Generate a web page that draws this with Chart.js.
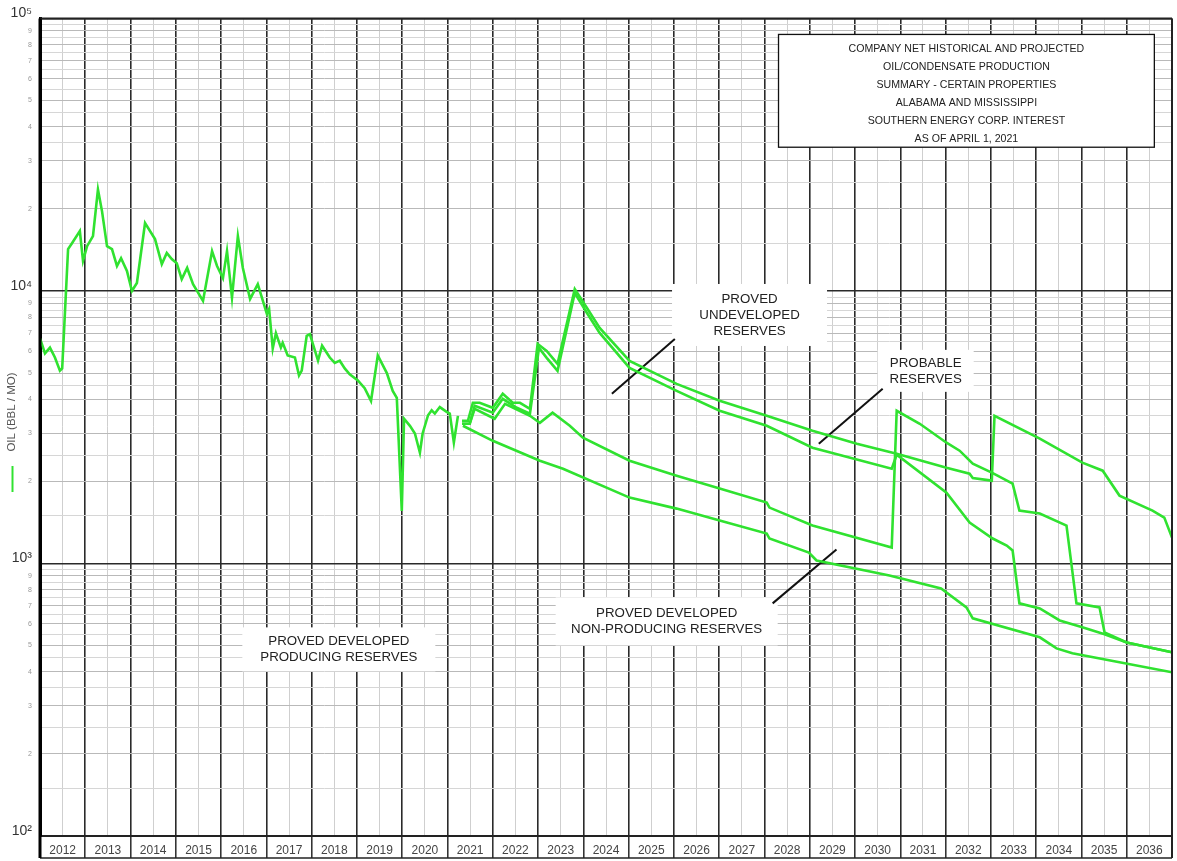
<!DOCTYPE html>
<html>
<head>
<meta charset="utf-8">
<script src="https://cdn.jsdelivr.net/npm/chart.js@4/dist/chart.umd.min.js"></script>
<style>
html,body{margin:0;padding:0;background:#fff;}
#wrap{width:1177px;height:861px;position:relative;}
canvas{display:block;}
</style>
</head>
<body>
<div id="wrap"><canvas id="c" width="1177" height="861"></canvas></div>
<script>
// ---------- DATA ----------
const yearLabels = ['2012','2013','2014','2015','2016','2017','2018','2019','2020','2021','2022','2023','2024','2025','2026','2027','2028','2029','2030','2031','2032','2033','2034','2035','2036'];

const histYears = [2012.00,2012.11,2012.22,2012.33,2012.44,2012.49,2012.62,2012.71,2012.88,2012.95,2013.04,2013.17,2013.28,2013.37,2013.48,2013.59,2013.70,2013.79,2013.92,2014.03,2014.14,2014.32,2014.54,2014.69,2014.80,2014.91,2015.02,2015.13,2015.25,2015.38,2015.60,2015.80,2015.91,2016.04,2016.13,2016.24,2016.37,2016.48,2016.64,2016.81,2017.01,2017.06,2017.14,2017.21,2017.32,2017.36,2017.47,2017.63,2017.72,2017.78,2017.89,2017.96,2018.14,2018.23,2018.40,2018.51,2018.62,2018.73,2018.84,2019.02,2019.17,2019.31,2019.46,2019.66,2019.79,2019.88,2019.99,2020.04,2020.17,2020.28,2020.39,2020.45,2020.57,2020.65,2020.72,2020.83,2020.98,2021.05,2021.14,2021.23];
const histValues = [6700,5900,6200,5700,5100,5200,14250,15000,16600,12900,14600,15900,23600,19600,14600,14250,12350,13200,11850,10000,10700,17750,15500,12550,13800,13100,12650,11050,12150,10600,9200,14000,12350,11150,14000,9450,15900,12150,9350,10600,8250,8600,6150,7000,6200,6450,5800,5700,4900,5100,6850,6950,5550,6300,5700,5450,5550,5200,4950,4700,4400,3950,5800,5000,4300,4050,1560,3400,3200,3000,2550,3000,3500,3650,3550,3750,3600,3550,2780,3480];

// upper forecast line (proved + probable)
const topYears = [2021.32,2021.45,2021.56,2021.71,2022.00,2022.22,2022.44,2022.60,2022.82,2022.99,2023.19,2023.43,2023.81,2024.08,2024.36,2025.02,2026.06,2027.01,2028.05,2029.06,2030.04,2030.92,2032.02,2032.53,2032.60,2033.02,2033.08,2034.08,2035.02,2035.47,2035.84,2036.57,2036.83,2037.00];
const topValues = [3341,3341,3888,3888,3727,4195,3888,3888,3697,6396,6029,5402,10170,8663,7319,5541,4563,3955,3485,3070,2751,2529,2246,2136,2060,2014,3485,2871,2344,2191,1775,1564,1474,1245];

// second forecast line (total proved)
const secondYears = [2021.32,2021.49,2021.60,2022.00,2022.22,2022.53,2022.82,2023.02,2023.19,2023.43,2023.81,2024.08,2024.36,2025.02,2026.06,2027.01,2028.05,2029.06,2030.81,2030.92,2032.02,2032.53,2033.04,2033.35,2033.48,2033.63,2034.08,2034.52,2035.02,2035.51,2036.00,2037.00];
const secondValues = [3256,3256,3792,3574,4021,3727,3544,6184,5684,5093,9833,8305,7019,5223,4302,3634,3203,2660,2228,2507,1820,1413,1235,1164,1116,714,684,618,583,550,513,472];

// third forecast line (proved developed)
const thirdYears = [2021.32,2021.49,2021.60,2022.04,2022.27,2022.82,2023.04,2023.32,2023.70,2023.99,2025.02,2026.06,2027.01,2028.05,2028.11,2029.06,2030.81,2030.92,2031.43,2032.02,2032.31,2032.60,2033.02,2033.48,2033.63,2034.08,2034.67,2034.89,2035.40,2035.51,2036.00,2037.00];
const thirdValues = [3256,3256,3697,3398,3856,3485,3284,3574,3203,2893,2384,2101,1883,1673,1604,1378,1144,3634,3256,2775,2594,2325,2154,1963,1564,1525,1378,714,690,559,513,472];

// bottom forecast line (proved developed producing)
const bottomYears = [2021.34,2022.00,2023.04,2023.55,2025.02,2026.06,2027.01,2028.05,2028.11,2028.98,2029.15,2030.76,2031.90,2032.46,2032.60,2034.08,2034.45,2034.80,2037.00];
const bottomValues = [3203,2820,2384,2228,1745,1590,1437,1288,1235,1097,1026,904,810,690,629,536,488,468,399];

// ---------- TEXT ----------
const titleLines = ['COMPANY NET HISTORICAL AND PROJECTED','OIL/CONDENSATE PRODUCTION','SUMMARY - CERTAIN PROPERTIES','ALABAMA AND MISSISSIPPI','SOUTHERN ENERGY CORP. INTEREST','AS OF APRIL 1, 2021'];
const yAxisTitle = 'OIL (BBL / MO)';
const labelPUD = ['PROVED','UNDEVELOPED','RESERVES'];
const labelProbable = ['PROBABLE','RESERVES'];
const labelPDNP = ['PROVED DEVELOPED','NON-PRODUCING RESERVES'];
const labelPDP = ['PROVED DEVELOPED','PRODUCING RESERVES'];

// ---------- STYLE / LAYOUT ----------
const GREEN = '#30e230';
const FONT = '"Liberation Sans", Arial, "DejaVu Sans", sans-serif';
const mantissas = [1,1.5,2,2.5,3,3.5,4,4.5,5,5.5,6,6.5,7,7.5,8,8.5,9,9.5];
const sup = {2:'\u00B2',3:'\u00B3',4:'\u2074',5:'\u2075'};

// annotations anchored in data units (year, value)
const annotations = [
  {lines: labelPUD,      cx: 2027.67, cy: 8166, w: 155, h: 62},
  {lines: labelProbable, cx: 2031.56, cy: 5093, w: 96,  h: 42},
  {lines: labelPDNP,     cx: 2025.84, cy: 613,  w: 222, h: 48},
  {lines: labelPDP,      cx: 2018.60, cy: 484,  w: 193, h: 44}
];
const pointers = [
  {x0: 2024.63, y0: 4195, x1: 2026.02, y1: 6668},
  {x0: 2029.20, y0: 2751, x1: 2030.61, y1: 4375},
  {x0: 2028.18, y0: 714,  x1: 2029.59, y1: 1125}
];
const titleBox = {x0: 2028.31, x1: 2036.61, y0: 87400, y1: 33700};

function pts(xs, ys){ return xs.map((x,i)=>({x:x, y:ys[i]})); }
function decade(v){ return Math.floor(Math.log10(v) + 1e-9); }
function mant(v){ return Math.round(v / Math.pow(10, decade(v)) * 100) / 100; }
function isInt(v){ return Math.abs(v - Math.round(v)) < 1e-6; }

const lineStyle = {borderColor: GREEN, borderWidth: 2.6, pointRadius: 0, tension: 0, fill: false};

const decor = {
  id: 'decor',
  beforeDatasetsDraw(chart){
    const {ctx, scales:{x, y}} = chart;
    ctx.save();
    // white label boxes with text
    ctx.textAlign = 'center';
    ctx.textBaseline = 'middle';
    for (const a of annotations){
      const px = x.getPixelForValue(a.cx), py = y.getPixelForValue(a.cy);
      ctx.fillStyle = '#fff';
      ctx.fillRect(px - a.w/2, py - a.h/2, a.w, a.h);
      ctx.fillStyle = '#222';
      ctx.font = '13.3px ' + FONT;
      const lh = 16;
      a.lines.forEach((t,i)=>{ ctx.fillText(t, px, py + (i - (a.lines.length-1)/2)*lh); });
    }
    // pointer lines
    ctx.strokeStyle = '#111';
    ctx.lineWidth = 2;
    for (const p of pointers){
      ctx.beginPath();
      ctx.moveTo(x.getPixelForValue(p.x0), y.getPixelForValue(p.y0));
      ctx.lineTo(x.getPixelForValue(p.x1), y.getPixelForValue(p.y1));
      ctx.stroke();
    }
    // title box
    const bx0 = x.getPixelForValue(titleBox.x0), bx1 = x.getPixelForValue(titleBox.x1);
    const by0 = y.getPixelForValue(titleBox.y0), by1 = y.getPixelForValue(titleBox.y1);
    ctx.fillStyle = '#fff';
    ctx.fillRect(bx0, by0, bx1-bx0, by1-by0);
    ctx.strokeStyle = '#111';
    ctx.lineWidth = 1.3;
    ctx.strokeRect(bx0, by0, bx1-bx0, by1-by0);
    ctx.fillStyle = '#222';
    ctx.font = '10.6px ' + FONT;
    titleLines.forEach((t,i)=>{ ctx.fillText(t, (bx0+bx1)/2, by0 + 14.5 + i*18); });
    ctx.restore();
  },
  afterDraw(chart){
    const {ctx, chartArea:a} = chart;
    ctx.save();
    // top & right borders of plot
    ctx.strokeStyle = '#222';
    ctx.lineWidth = 2;
    ctx.beginPath();
    ctx.moveTo(a.left, a.top); ctx.lineTo(a.right, a.top);
    ctx.moveTo(a.right, a.top); ctx.lineTo(a.right, a.bottom + 22);
    ctx.stroke();
    // label row bottom line
    ctx.lineWidth = 1.5;
    ctx.beginPath();
    ctx.moveTo(a.left, a.bottom + 22); ctx.lineTo(a.right, a.bottom + 22);
    ctx.stroke();
    // left border extension
    ctx.strokeStyle = '#000';
    ctx.lineWidth = 3;
    ctx.beginPath();
    ctx.moveTo(a.left, a.top); ctx.lineTo(a.left, a.bottom + 22);
    ctx.stroke();
    // y-axis title with legend swatch
    ctx.translate(12, 0);
    ctx.strokeStyle = GREEN;
    ctx.lineWidth = 2;
    ctx.beginPath(); ctx.moveTo(0.5, 466); ctx.lineTo(0.5, 492); ctx.stroke();
    ctx.rotate(-Math.PI/2);
    ctx.fillStyle = '#555';
    ctx.font = '11.5px ' + FONT;
    ctx.textAlign = 'center';
    ctx.textBaseline = 'middle';
    ctx.fillText(yAxisTitle, -412, 0);
    ctx.restore();
  }
};

new Chart(document.getElementById('c'), {
  type: 'line',
  data: {
    datasets: [
      Object.assign({label: 'Historical', data: pts(histYears, histValues)}, lineStyle),
      Object.assign({label: 'Proved + Probable', data: pts(topYears, topValues)}, lineStyle),
      Object.assign({label: 'Total Proved', data: pts(secondYears, secondValues)}, lineStyle),
      Object.assign({label: 'Proved Developed', data: pts(thirdYears, thirdValues)}, lineStyle),
      Object.assign({label: 'PDP', data: pts(bottomYears, bottomValues)}, lineStyle)
    ]
  },
  options: {
    responsive: false,
    animation: false,
    devicePixelRatio: 1,
    layout: {padding: {top: 17, right: 5, bottom: 0, left: 0}},
    plugins: {legend: {display: false}, tooltip: {enabled: false}},
    scales: {
      x: {
        type: 'linear',
        min: 2012, max: 2037,
        afterBuildTicks(scale){
          const t = [];
          for (let v = 2012; v <= 2037.001; v += 0.5) t.push({value: v});
          scale.ticks = t;
        },
        afterFit(scale){ scale.height = 25; },
        grid: {
          color: (c) => isInt(c.tick.value) ? '#2a2a2a' : '#cfcfcf',
          lineWidth: (c) => isInt(c.tick.value) ? 1.6 : 1,
          drawTicks: true,
          tickLength: 22,
          tickColor: (c) => isInt(c.tick.value) ? '#2a2a2a' : 'rgba(0,0,0,0)',
          tickWidth: 1.5
        },
        border: {color: '#222', width: 2},
        ticks: {
          autoSkip: false, maxRotation: 0, minRotation: 0,
          padding: -15,
          color: '#444',
          font: {family: FONT, size: 12},
          callback: (v) => isInt(v) ? '' : yearLabels[Math.floor(v) - 2012]
        }
      },
      y: {
        type: 'logarithmic',
        min: 100, max: 100000,
        afterBuildTicks(scale){
          const t = [];
          for (let e = 2; e < 5; e++) for (const m of mantissas) t.push({value: m * Math.pow(10, e)});
          t.push({value: 100000});
          scale.ticks = t;
        },
        afterFit(scale){ scale.width = 40; },
        grid: {
          color: (c) => { const m = mant(c.tick.value); return m === 1 ? '#2a2a2a' : (isInt(m) ? '#b9b9b9' : '#d6d6d6'); },
          lineWidth: (c) => mant(c.tick.value) === 1 ? 1.6 : 1,
          drawTicks: false
        },
        border: {color: '#000', width: 3},
        ticks: {
          autoSkip: false,
          padding: 8,
          color: (c) => mant(c.tick.value) === 1 ? '#333' : '#999',
          font: (c) => mant(c.tick.value) === 1 ? {family: FONT, size: 14, lineHeight: 0.75} : {family: FONT, size: 7},
          callback: (v) => {
            const m = mant(v);
            if (m === 1) return ['10' + sup[decade(v)], ''];
            return isInt(m) ? String(m) : '';
          }
        }
      }
    }
  },
  plugins: [decor]
});
</script>
</body>
</html>
